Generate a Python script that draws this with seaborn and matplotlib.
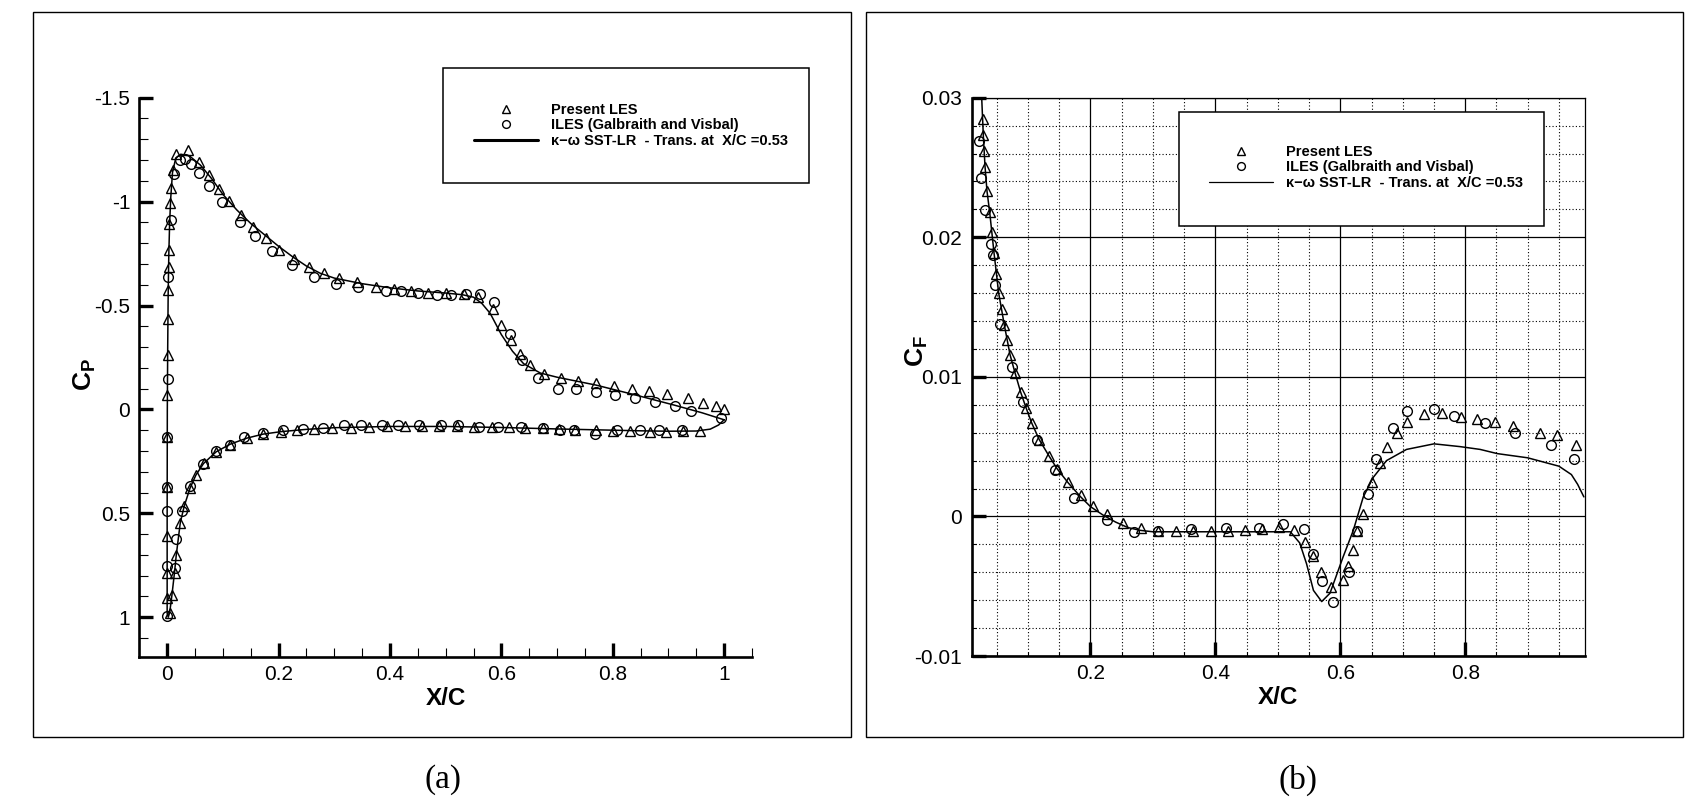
import matplotlib
matplotlib.use("Agg")
import matplotlib.pyplot as plt
import seaborn as sns
import pandas as pd
from matplotlib.patches import Rectangle
from matplotlib.ticker import MultipleLocator, FuncFormatter
from matplotlib.font_manager import FontProperties

# ---------------- data: (a) pressure coefficient ----------------
cp_les_upper_x = [0.0, 0.0, 0.0, 0.0, 0.0, 0.0005, 0.0018, 0.0018, 0.002, 0.0025, 0.003, 0.0042,
                  0.0054, 0.0066, 0.0102, 0.015, 0.0376, 0.0568, 0.0746, 0.0924, 0.1116, 0.132,
                  0.154, 0.1767, 0.2, 0.2269, 0.2543, 0.281, 0.3084, 0.3414, 0.3742, 0.4072, 0.438,
                  0.469, 0.4998, 0.5321, 0.558, 0.5848, 0.6, 0.617, 0.6328, 0.6514, 0.6774, 0.7075,
                  0.7378, 0.7692, 0.8015, 0.834, 0.8654, 0.897, 0.9355, 0.9618, 0.985, 1.0]
cp_les_upper = [0.909, 0.789, 0.608, 0.375, 0.135, -0.069, -0.261, -0.437, -0.576, -0.685, -0.765,
                -0.894, -0.993, -1.067, -1.154, -1.231, -1.247, -1.19, -1.128, -1.061, -1.001,
                -0.936, -0.88, -0.824, -0.769, -0.724, -0.686, -0.657, -0.63, -0.611, -0.59, -0.58,
                -0.57, -0.5625, -0.558, -0.553, -0.541, -0.481, -0.405, -0.333, -0.266, -0.213,
                -0.17, -0.149, -0.136, -0.125, -0.115, -0.099, -0.088, -0.074, -0.053, -0.032,
                -0.015, 0.0]
cp_les_lower_x = [0.0047, 0.0086, 0.0134, 0.0164, 0.0236, 0.0307, 0.0409, 0.0516, 0.0654, 0.088,
                  0.1135, 0.1434, 0.1721, 0.2043, 0.2337, 0.2645, 0.2968, 0.3297, 0.3626, 0.3948,
                  0.427, 0.458, 0.4888, 0.5204, 0.5512, 0.5835, 0.6143, 0.6431, 0.6739, 0.7034,
                  0.7329, 0.7692, 0.7996, 0.8318, 0.8668, 0.8962, 0.9268, 0.957]
cp_les_lower = [0.981, 0.893, 0.789, 0.70, 0.545, 0.465, 0.38, 0.316, 0.26, 0.204, 0.169, 0.139,
                0.119, 0.1075, 0.0995, 0.0947, 0.0881, 0.0881, 0.0833, 0.08, 0.08, 0.0785, 0.0785,
                0.0785, 0.0833, 0.0833, 0.0865, 0.0881, 0.0913, 0.096, 0.0995, 0.0995, 0.1026,
                0.1043, 0.1075, 0.1075, 0.1043, 0.1026]

cp_iles_upper_x = [0.0, 0.0, 0.0, 0.0, 0.0, 0.0018, 0.0019, 0.0066, 0.0126, 0.0231, 0.0328, 0.0423,
                   0.0574, 0.076, 0.0986, 0.1308, 0.1583, 0.1891, 0.2235, 0.2645, 0.3024, 0.3427,
                   0.3921, 0.4196, 0.4497, 0.4841, 0.5101, 0.5362, 0.5616, 0.5869, 0.6151, 0.637,
                   0.6658, 0.7014, 0.7344, 0.7692, 0.8042, 0.8406, 0.8763, 0.9126, 0.9406]
cp_iles_upper = [0.994, 0.752, 0.487, 0.372, 0.135, -0.146, -0.636, -0.91, -1.135, -1.202, -1.207,
                 -1.183, -1.139, -1.074, -0.998, -0.902, -0.833, -0.763, -0.697, -0.638, -0.602,
                 -0.59, -0.569, -0.569, -0.558, -0.55, -0.55, -0.553, -0.553, -0.518, -0.365,
                 -0.24, -0.149, -0.096, -0.096, -0.085, -0.069, -0.053, -0.037, -0.017, 0.007]
cp_iles_lower_x = [0.0134, 0.0164, 0.0259, 0.041, 0.0637, 0.088, 0.1135, 0.138, 0.172, 0.2079,
                   0.2437, 0.2803, 0.3171, 0.3489, 0.3859, 0.414, 0.4518, 0.4908, 0.5216, 0.5597,
                   0.5937, 0.6351, 0.6739, 0.7055, 0.7307, 0.7685, 0.8085, 0.8482, 0.8833, 0.9247,
                   0.995]
cp_iles_lower = [0.761, 0.624, 0.487, 0.37, 0.265, 0.2, 0.169, 0.1346, 0.1157, 0.1, 0.093, 0.091,
                 0.075, 0.075, 0.075, 0.075, 0.075, 0.075, 0.075, 0.0865, 0.0865, 0.0865, 0.088,
                 0.0995, 0.0995, 0.12, 0.0995, 0.0995, 0.0995, 0.0995, 0.04]

# k-omega SST-LR curve: lower surface (TE -> LE) then upper surface (LE -> TE)
cp_sst_x = [1.0, 0.99, 0.975, 0.95, 0.9, 0.85, 0.8, 0.7, 0.6, 0.5, 0.4, 0.3, 0.25, 0.2043, 0.1721,
            0.1434, 0.1135, 0.088, 0.0654, 0.0516, 0.0409, 0.0307, 0.0236, 0.0164, 0.0134, 0.0086,
            0.0047, 0.002,
            0.0, 0.0, 0.0003, 0.001, 0.0018, 0.003, 0.0045, 0.0065, 0.0096, 0.0155, 0.0245, 0.04,
            0.06, 0.08, 0.1, 0.125, 0.15, 0.175, 0.2, 0.225, 0.25, 0.275, 0.3, 0.35, 0.4, 0.45,
            0.5, 0.53, 0.55, 0.565, 0.58, 0.6, 0.62, 0.64, 0.67, 0.7, 0.77, 0.84, 0.91, 0.96, 1.0]
cp_sst = [0.05, 0.075, 0.095, 0.104, 0.105, 0.103, 0.1, 0.094, 0.087, 0.082, 0.082, 0.088, 0.096,
          0.107, 0.119, 0.138, 0.167, 0.204, 0.26, 0.316, 0.38, 0.465, 0.545, 0.70, 0.78, 0.893,
          0.975, 1.0,
          0.98, 0.5, 0.0, -0.3, -0.55, -0.75, -0.9, -1.02, -1.14, -1.21, -1.228, -1.22,
          -1.175, -1.11, -1.035, -0.96, -0.895, -0.84, -0.785, -0.735, -0.69, -0.655, -0.632,
          -0.605, -0.585, -0.57, -0.56, -0.552, -0.54, -0.51, -0.462, -0.36, -0.28, -0.22,
          -0.175, -0.155, -0.117, -0.07, -0.021, 0.016, 0.05]

# ---------------- data: (b) skin friction coefficient ----------------
cf_les_x = [0.0274, 0.0284, 0.0295, 0.0311, 0.0343, 0.0386, 0.0418, 0.0455, 0.0493, 0.053, 0.0578,
            0.0621, 0.0669, 0.0711, 0.0791, 0.0882, 0.0967, 0.1058, 0.118, 0.134, 0.1468, 0.1644,
            0.1843, 0.2045, 0.2259, 0.2525, 0.2804, 0.3086, 0.3364, 0.3646, 0.3925, 0.4206,
            0.4474, 0.4751, 0.5018, 0.5263, 0.5435, 0.5558, 0.5686, 0.5846, 0.6039, 0.6128,
            0.6208, 0.6272, 0.6368, 0.6512, 0.6636, 0.6743, 0.6903, 0.7073, 0.734, 0.7633,
            0.7928, 0.8194, 0.8482, 0.876, 0.919, 0.947, 0.977]
cf_les = [0.02845, 0.02733, 0.02618, 0.02506, 0.02334, 0.02183, 0.02036, 0.01885, 0.01737,
          0.01603, 0.01484, 0.01372, 0.01264, 0.01157, 0.01026, 0.00894, 0.00775, 0.00672,
          0.00548, 0.00433, 0.00338, 0.00249, 0.00154, 0.00075, 0.00016, -0.00044, -0.0008,
          -0.00104, -0.00104, -0.00104, -0.00104, -0.00104, -0.00097, -0.0009, -0.00077,
          -0.00097, -0.0018, -0.00283, -0.004, -0.00503, -0.00455, -0.00352, -0.0024, -0.00104,
          0.00016, 0.00249, 0.00385, 0.005, 0.006, 0.00679, 0.00732, 0.00739, 0.00715, 0.00696,
          0.00679, 0.0065, 0.006, 0.0058, 0.0051]
cf_iles_x = [0.0219, 0.0247, 0.0316, 0.0402, 0.0434, 0.0471, 0.0551, 0.0738, 0.0914, 0.1148,
             0.1432, 0.1736, 0.2269, 0.2701, 0.3086, 0.3605, 0.4165, 0.4703, 0.5087, 0.5419,
             0.5558, 0.5702, 0.5878, 0.6139, 0.6272, 0.6448, 0.6572, 0.6849, 0.7063, 0.7505,
             0.782, 0.8317, 0.879, 0.937, 0.974]
cf_iles = [0.02692, 0.02427, 0.02196, 0.01952, 0.01871, 0.01658, 0.01379, 0.01069, 0.00822,
           0.00548, 0.00333, 0.00135, -0.00025, -0.00109, -0.00104, -0.0009, -0.00085, -0.00085,
           -0.00056, -0.0009, -0.00271, -0.00462, -0.0061, -0.00395, -0.00102, 0.00159, 0.0041,
           0.00636, 0.00756, 0.00768, 0.00722, 0.00672, 0.006, 0.0051, 0.0041]
cf_sst_x = [0.0258, 0.0285, 0.0311, 0.0343, 0.0386, 0.0455, 0.053, 0.0621, 0.0711, 0.0791, 0.0882,
            0.0967, 0.1058, 0.118, 0.134, 0.1468, 0.1644, 0.1843, 0.2, 0.22, 0.24, 0.26, 0.28,
            0.3, 0.4, 0.5, 0.52, 0.535, 0.546, 0.557, 0.5702, 0.5835, 0.594, 0.6045, 0.6208,
            0.6368, 0.6528, 0.674, 0.706, 0.75, 0.792, 0.824, 0.8514, 0.9, 0.95, 0.97, 0.98, 0.99]
cf_sst = [0.0300, 0.0272, 0.0251, 0.0233, 0.0218, 0.0189, 0.0160, 0.0137, 0.0116, 0.0103, 0.0089,
          0.0078, 0.0067, 0.0055, 0.0043, 0.0034, 0.0024, 0.0014, 0.0007, 0.0001, -0.0004,
          -0.0008, -0.0010, -0.0011, -0.0011, -0.0011, -0.0011, -0.0019, -0.0034, -0.0053,
          -0.0061, -0.0055, -0.0042, -0.0029, -0.0010, 0.0014, 0.0028, 0.0040, 0.0048, 0.0052,
          0.0050, 0.0048, 0.0045, 0.0042, 0.0036, 0.0030, 0.0023, 0.0014]

lbl_les = "Present LES"
lbl_iles = "ILES (Galbraith and Visbal)"
lbl_sst = "\u03ba\u2212\u03c9 SST-LR  - Trans. at  X/C =0.53"

# ---------------- style ----------------
sns.set_theme(style="white")
plt.rcParams["font.family"] = ["Liberation Sans", "DejaVu Sans"]
plt.rcParams.update({
    "axes.unicode_minus": False,
    "mathtext.fontset": "custom",
    "mathtext.rm": "Liberation Sans",
    "mathtext.bf": "Liberation Sans:bold",
    "mathtext.it": "Liberation Sans:italic",
    "text.color": "black",
    "axes.labelcolor": "black",
    "xtick.color": "black",
    "ytick.color": "black",
    "axes.edgecolor": "black",
})

W, H = 1699, 798
fig = plt.figure(figsize=(W / 100, H / 100), dpi=100)


def fx(px):
    return px / W


def fy(py):
    return 1 - py / H


fmt = FuncFormatter(lambda v, p: ("%g" % round(v, 6)) if abs(v) > 1e-9 else "0")
tick_fs = 15
legend_font = FontProperties(family=["Liberation Sans", "DejaVu Sans"], weight="bold", size=10.5)

# outer panel frames
for x0, x1 in [(33, 851), (866, 1683)]:
    fig.add_artist(Rectangle((fx(x0), fy(737.3)), fx(x1) - fx(x0), fy(11.7) - fy(737.3),
                             transform=fig.transFigure, fill=False, lw=1.0, ec="black"))

mk_common = dict(linestyle="", markerfacecolor="none", markeredgecolor="black",
                 color="black", markeredgewidth=1.0)


def draw_series(ax, tri_x, tri_y, cir_x, cir_y, ln_x, ln_y):
    sns.lineplot(x=tri_x, y=tri_y, sort=False, estimator=None, marker="^", markersize=6.5,
                 label=lbl_les, ax=ax, **mk_common)
    sns.lineplot(x=cir_x, y=cir_y, sort=False, estimator=None, marker="o", markersize=7,
                 label=lbl_iles, ax=ax, **mk_common)
    sns.lineplot(x=ln_x, y=ln_y, sort=False, estimator=None, color="black", lw=1.1,
                 label=lbl_sst, ax=ax)


def make_legend(ax, box, anchor, line_lw):
    x0, x1, y0, y1 = box
    ax.add_patch(Rectangle((fx(x0), fy(y1)), fx(x1) - fx(x0), fy(y0) - fy(y1),
                           transform=fig.transFigure, clip_on=False, fc="white", ec="black",
                           lw=1.1, zorder=4))
    h, l = ax.get_legend_handles_labels()
    leg = ax.legend(h, l, loc="upper left", bbox_to_anchor=(fx(anchor[0]), fy(anchor[1])),
                    bbox_transform=fig.transFigure, frameon=False, borderpad=0, borderaxespad=0,
                    handlelength=4.4, handletextpad=0.85, labelspacing=0.1, markerscale=0.8,
                    prop=legend_font)
    leg.set_zorder(6)
    leg.legend_handles[2].set_linewidth(line_lw)
    for t in leg.get_texts():
        t.set_color("black")


# ---------------- (a) Cp ----------------
ax1 = fig.add_axes([fx(139.3), fy(656.7), fx(752) - fx(139.3), fy(97.7) - fy(656.7)])
draw_series(ax1,
            cp_les_upper_x + cp_les_lower_x, cp_les_upper + cp_les_lower,
            cp_iles_upper_x + cp_iles_lower_x, cp_iles_upper + cp_iles_lower,
            cp_sst_x, cp_sst)
ax1.set_xlim(-0.05, 1.05)
ax1.set_ylim(1.19, -1.5)
ax1.xaxis.set_major_locator(MultipleLocator(0.2))
ax1.xaxis.set_minor_locator(MultipleLocator(0.05))
ax1.yaxis.set_major_locator(MultipleLocator(0.5))
ax1.yaxis.set_minor_locator(MultipleLocator(0.1))
ax1.xaxis.set_major_formatter(fmt)
ax1.yaxis.set_major_formatter(fmt)
for s in ["top", "right"]:
    ax1.spines[s].set_visible(False)
for s in ["left", "bottom"]:
    ax1.spines[s].set_linewidth(1.9)
    ax1.spines[s].set_color("black")
ax1.tick_params(which="major", direction="in", length=10, width=2.4, labelsize=tick_fs,
                left=True, bottom=True)
ax1.tick_params(axis="y", which="major", pad=6.5)
ax1.tick_params(axis="x", which="major", pad=6)
ax1.tick_params(which="minor", direction="in", length=6.5, width=0.8, left=True, bottom=True)
ax1.set_xlabel("X/C", fontsize=17.5, fontweight="bold")
ax1.xaxis.set_label_coords(0.5, -0.054)
ax1.set_ylabel(r"$\mathbf{C}_{\mathbf{P}}$", fontsize=19)
ax1.yaxis.set_label_coords(-0.068, 0.504)
make_legend(ax1, (443.3, 809.3, 68.3, 183.3), (474, 102.8), 2.2)

# ---------------- (b) Cf ----------------
ax2 = fig.add_axes([fx(971.7), fy(656), fx(1585) - fx(971.7), fy(97.7) - fy(656)])
draw_series(ax2, cf_les_x, cf_les, cf_iles_x, cf_iles, cf_sst_x, cf_sst)
ax2.set_xlim(0.0098, 0.9918)
ax2.set_ylim(-0.01, 0.03)
ax2.xaxis.set_major_locator(MultipleLocator(0.2))
ax2.xaxis.set_minor_locator(MultipleLocator(0.05))
ax2.yaxis.set_major_locator(MultipleLocator(0.01))
ax2.yaxis.set_minor_locator(MultipleLocator(0.002))
ax2.xaxis.set_major_formatter(fmt)
ax2.yaxis.set_major_formatter(fmt)
ax2.set_axisbelow(True)
ax2.grid(which="major", color="black", lw=0.9, ls="-")
ax2.grid(which="minor", color="black", lw=0.8, ls=(0, (1, 2)))
for s in ["top", "right"]:
    ax2.spines[s].set_linewidth(0.9)
    ax2.spines[s].set_color("black")
for s in ["left", "bottom"]:
    ax2.spines[s].set_linewidth(1.9)
    ax2.spines[s].set_color("black")
ax2.tick_params(which="major", direction="in", length=10, width=2.4, labelsize=tick_fs,
                left=True, bottom=True)
ax2.tick_params(axis="y", which="major", pad=7)
ax2.tick_params(axis="x", which="major", pad=6)
ax2.tick_params(which="minor", direction="in", length=3, width=0.8, left=True, bottom=True)
ax2.set_xlabel("X/C", fontsize=17.5, fontweight="bold")
ax2.xaxis.set_label_coords(0.5, -0.054)
ax2.set_ylabel(r"$\mathbf{C}_{\mathbf{F}}$", fontsize=19)
ax2.yaxis.set_label_coords(-0.068, 0.546)
make_legend(ax2, (1178.7, 1544.3, 111.7, 226), (1209, 145.0), 0.9)

# panel captions
fig.text(fx(443), fy(780), "(a)", ha="center", va="center", fontsize=24,
         family=["Liberation Serif", "DejaVu Serif"])
fig.text(fx(1298), fy(780), "(b)", ha="center", va="center", fontsize=24,
         family=["Liberation Serif", "DejaVu Serif"])

fig.savefig("out.png", dpi=100)
